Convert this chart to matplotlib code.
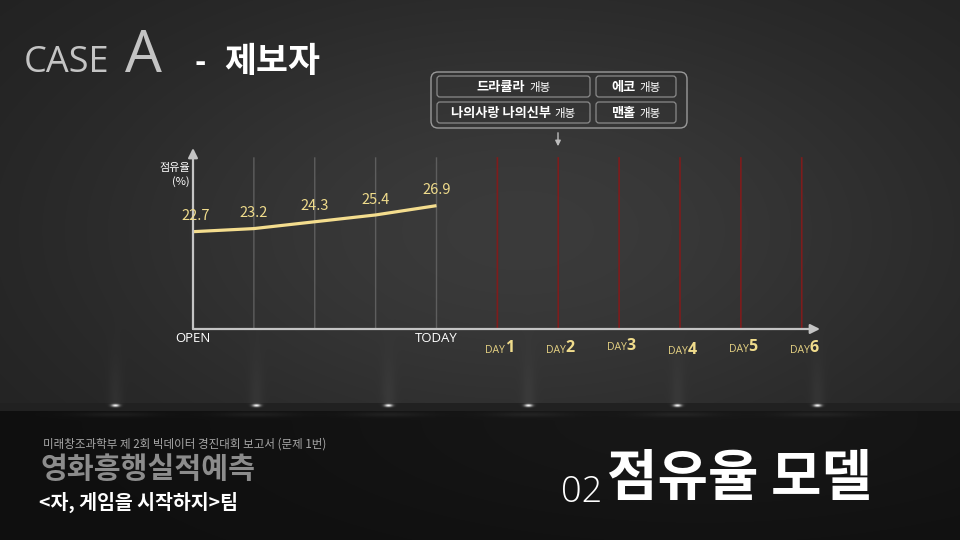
import numpy as np
import matplotlib
matplotlib.use("Agg")
import matplotlib.pyplot as plt
from matplotlib.patches import FancyBboxPatch

plt.rcParams['font.family'] = ['Noto Sans CJK KR', 'DejaVu Sans']

# ---------------- data ----------------
share_values = [22.7, 23.2, 24.3, 25.4, 26.9]
x_labels = ['OPEN', '', '', '', 'TODAY']
day_numbers = ['1', '2', '3', '4', '5', '6']
legend_rows = [[('드라큘라', '개봉'), ('에코', '개봉')],
               [('나의사랑 나의신부', '개봉'), ('맨홀', '개봉')]]
y_label = '점유율\n(%)'

W, H = 960, 540
fig = plt.figure(figsize=(9.6, 5.4), dpi=100)
renderer = fig.canvas.get_renderer()

# ---------------- background ----------------
bg = fig.add_axes([0, 0, 1, 1])
yy, xx = np.mgrid[0:H, 0:W].astype(float)
top = 0.12 + 0.11 * np.exp(-((xx - 520) / 480) ** 2 - ((yy - 230) / 260) ** 2)
bottom = 0.06 + 0.03 * np.exp(-((xx - 700) / 400) ** 2 - ((yy - 420) / 120) ** 2)
img = np.where(yy < 405, top, bottom)
strip = (yy >= 403) & (yy < 411)
img[strip] = 0.13
spots_x = [115, 256, 388, 528, 677, 817]
for sx in spots_x:
    cone = 0.035 * np.exp(-((xx - sx) / 7) ** 2) * np.exp(-((yy - 405) / 45) ** 2) * (yy < 405)
    img += cone
    glow = 0.05 * np.exp(-((xx - sx) / 40) ** 2 - ((yy - 414) / 2.5) ** 2)
    img += glow
    dot = 0.8 * np.exp(-((xx - sx) / 4) ** 2 - ((yy - 405) / 1.5) ** 2)
    img += dot
img = np.clip(img, 0, 1)
bg.imshow(np.dstack([img] * 3), extent=(0, W, H, 0), aspect='auto', interpolation='bilinear')
bg.set_xlim(0, W)
bg.set_ylim(H, 0)
bg.axis('off')

# ---------------- titles ----------------
bg.text(24, 72, 'CASE', family=['Open Sans', 'DejaVu Sans'], fontweight='normal',
        fontsize=26, color='#c4c4c4', va='baseline', ha='left')
bg.text(125, 72, 'A', family=['Open Sans', 'DejaVu Sans'], fontweight='normal',
        fontsize=42, color='#c4c4c4', va='baseline', ha='left')
bg.text(194, 72, '-', fontsize=22, color='white', fontweight='bold', va='baseline')
bg.text(224, 72, '제보자', fontsize=25, color='white', fontweight='heavy', va='baseline')

# ---------------- legend box ----------------
outer = FancyBboxPatch((431, 72), 256, 56, boxstyle='round,pad=0,rounding_size=7',
                       fc='none', ec='#9a9a9a', lw=1.0)
bg.add_patch(outer)
box_specs = [(437, 76, 153, 21), (596, 76, 80, 21)]
for r, row in enumerate(legend_rows):
    for c, (name, suffix) in enumerate(row):
        bx, by, bw, bh = box_specs[c]
        by = by + r * 26
        bg.add_patch(FancyBboxPatch((bx, by), bw, bh, boxstyle='round,pad=0,rounding_size=3',
                                    fc='none', ec='#8a8a8a', lw=0.9))
        cy = by + bh / 2 + 0.5
        t1 = bg.text(0, cy, name, fontsize=9.5, color='white',
                     fontweight='bold', ha='left', va='center')
        t2 = bg.text(0, cy + 0.5, suffix, fontsize=8.3, color='white',
                     ha='left', va='center')
        w1 = t1.get_window_extent(renderer).width
        w2 = t2.get_window_extent(renderer).width
        gap = 4
        x0 = bx + (bw - (w1 + gap + w2)) / 2
        t1.set_x(x0)
        t2.set_x(x0 + w1 + gap)
bg.annotate('', xy=(558, 149), xytext=(558, 130),
            arrowprops=dict(arrowstyle='-|>', color='#bdbdbd', lw=1, mutation_scale=8))

# ---------------- chart ----------------
ymin, ymax = 7.0, 36.2
xmax = 10.3
ax = fig.add_axes([193 / W, (H - 329) / H, (820 - 193) / W, (329 - 148) / H])
ax.set_facecolor('none')
ax.set_xlim(0, xmax)
ax.set_ylim(ymin, ymax)
ax.axis('off')

xs = np.arange(len(share_values))
grid_top = ymin + (329 - 158) / 181 * (ymax - ymin)
for x in xs[1:]:
    ax.plot([x, x], [ymin, grid_top], color='#5e5e5e', lw=1.0, snap=False)
day_x = np.arange(len(share_values), len(share_values) + len(day_numbers))
for x in day_x:
    ax.plot([x, x], [ymin, grid_top], color='#7e1c1c', lw=1.2, snap=False)

ax.annotate('', xy=(xmax, ymin), xytext=(0, ymin),
            arrowprops=dict(arrowstyle='-|>', color='#c4c4c4', lw=1.6, mutation_scale=14,
                            shrinkA=0, shrinkB=0))
ax.annotate('', xy=(0, ymax), xytext=(0, ymin),
            arrowprops=dict(arrowstyle='-|>', color='#c4c4c4', lw=1.6, mutation_scale=14,
                            shrinkA=0, shrinkB=0))

ax.plot(xs, share_values, color='#f4dd8e', lw=2.3, solid_capstyle='butt')
for x, v in zip(xs, share_values):
    ax.annotate(f'{v}', (x, v), xytext=(2 if x == 0 else 0, 11), textcoords='offset points',
                ha='center', va='center', fontsize=10.5, color='#f0dc8c')

for x, lab in zip(xs, x_labels):
    if lab:
        ax.annotate(lab, (x, ymin), xytext=(0, -7), textcoords='offset points',
                    ha='center', va='center', fontsize=9.5, color='white',
                    family=['Open Sans', 'DejaVu Sans'])

day_dy = [-14, -14, -12, -15, -13, -14]
for x, n, dy in zip(day_x, day_numbers, day_dy):
    ax.annotate('DAY', (x, ymin), xytext=(5.5, dy - 1.5), textcoords='offset points',
                ha='right', va='center', fontsize=7.5, color='#e6d283',
                family=['Open Sans', 'DejaVu Sans'])
    ax.annotate(n, (x, ymin), xytext=(5.5, dy), textcoords='offset points',
                ha='left', va='center', fontsize=11.5, color='#f0dc8c', fontweight='bold',
                family=['Open Sans', 'DejaVu Sans'])

bg.text(190, 175, y_label, fontsize=8, color='white', ha='right', va='center',
        linespacing=1.3)

# ---------------- footer ----------------
bg.text(43, 444, '미래창조과학부 제 2회 빅데이터 경진대회 보고서 (문제 1번)', fontsize=8.3,
        color='#a8a8a8', ha='left', va='center')
bg.text(41, 469, '영화흥행실적예측', fontsize=21, color='#8c8c8c', fontweight='heavy',
        ha='left', va='center')
bg.text(39, 502, '<자, 게임을 시작하지>팀', fontsize=14, color='white', fontweight='bold',
        ha='left', va='center')
bg.text(561, 502, '02', family=['Open Sans', 'DejaVu Sans'], fontweight='light',
        fontsize=26, color='white', ha='left', va='baseline')
bg.text(607, 479, '점유율 모델', fontsize=39.5, color='white', fontweight='heavy',
        ha='left', va='center')

fig.savefig('out.png', dpi=100)
